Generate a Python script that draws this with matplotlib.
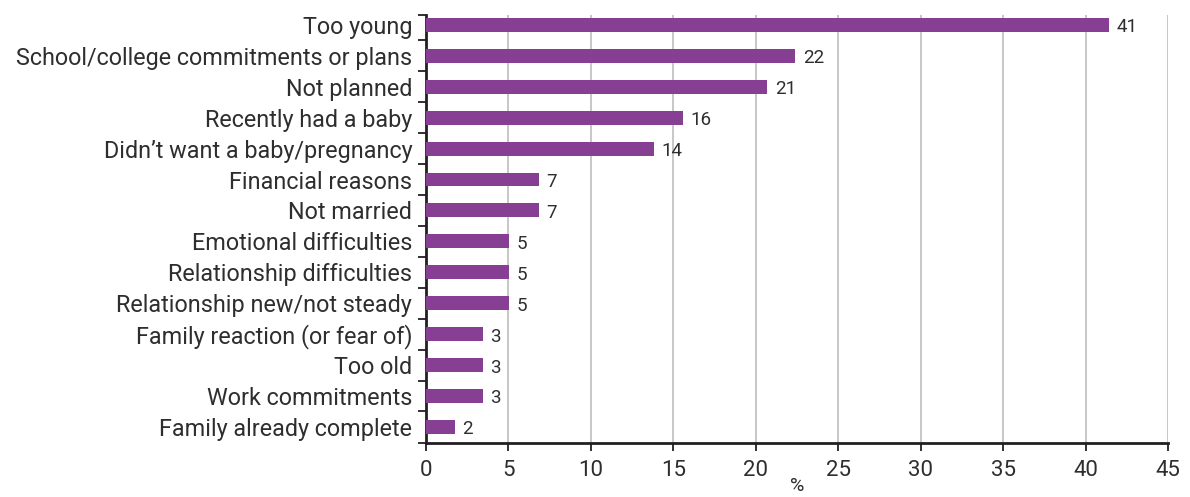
import matplotlib
matplotlib.use("Agg")
import matplotlib.pyplot as plt
import numpy as np

plt.rcParams['font.family'] = ['Roboto', 'DejaVu Sans']

reasons = [
    "Too young",
    "School/college commitments or plans",
    "Not planned",
    "Recently had a baby",
    "Didn\u2019t want a baby/pregnancy",
    "Financial reasons",
    "Not married",
    "Emotional difficulties",
    "Relationship difficulties",
    "Relationship new/not steady",
    "Family reaction (or fear of)",
    "Too old",
    "Work commitments",
    "Family already complete",
]
percent = [41.45, 22.4, 20.7, 15.6, 13.8, 6.85, 6.85, 5.05, 5.05, 5.05, 3.45, 3.45, 3.45, 1.75]
xticks = [0, 5, 10, 15, 20, 25, 30, 35, 40, 45]

bar_color = "#873f93"
text_color = "#2e2e2e"
spine_color = "#231f20"

fig = plt.figure(figsize=(11.9, 4.97), dpi=100)
ax = fig.add_axes([0.358, 0.1087, 0.6235, 0.8611])

y = np.arange(len(reasons))
ax.barh(y, percent, height=0.45, color=bar_color, zorder=3)
for yi, v in zip(y, percent):
    ax.text(v + 0.45, yi + 0.08, f"{round(v):d}", va="center", ha="left",
            fontsize=13.5, color=text_color)

ymin, ymax = -0.32, len(reasons) - 0.48
ax.set_ylim(ymax, ymin)
ax.set_xlim(0, 45)
ax.set_xticks(xticks)
ax.set_xticklabels([str(t) for t in xticks], fontsize=16, color=text_color)

ax.set_yticks(y)
ax.set_yticklabels(reasons, fontsize=16.8, color=text_color)
ax.tick_params(axis="y", length=0, pad=10)
ax.set_yticks([ymin] + list(np.arange(1, len(reasons)) - 0.5) + [ymax], minor=True)
ax.tick_params(axis="y", which="minor", length=6, width=1.3, color=spine_color, direction="out")
ax.tick_params(axis="x", length=6, width=1.3, color=spine_color, direction="out", pad=6)

ax.grid(axis="x", color="#bdbdbd", linewidth=1.2, zorder=0)
ax.set_axisbelow(True)

for s in ["top", "right"]:
    ax.spines[s].set_visible(False)
for s in ["left", "bottom"]:
    ax.spines[s].set_color(spine_color)
    ax.spines[s].set_linewidth(2)

fig.text(0.5 * (0.358 + 0.358 + 0.6235), 0.004, "%", ha="center", va="bottom",
         fontsize=14, color=text_color)

fig.savefig("out.png", dpi=100)
